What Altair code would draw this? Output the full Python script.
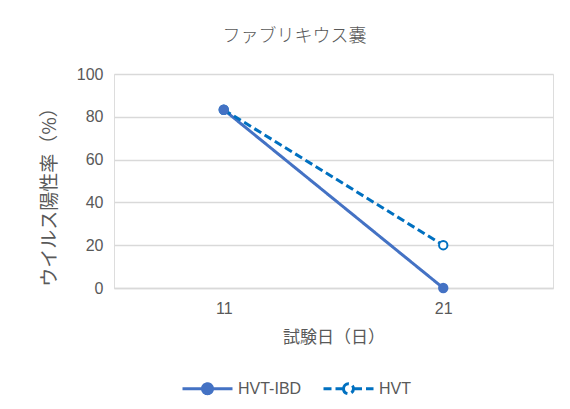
import altair as alt
import pandas as pd

days = ["11", "21"]
series_names = ["HVT-IBD", "HVT"]
hvt_ibd = [83.3, 0.0]
hvt = [83.3, 20.0]

rows = []
for name, vals in zip(series_names, [hvt_ibd, hvt]):
    for d, v in zip(days, vals):
        rows.append({"day": d, "value": v, "series": name})
df = pd.DataFrame(rows)

colors = ["#4472C4", "#0070C0"]
fills = ["#4472C4", "#ffffff"]
dashes = [[1, 0], [8, 4]]
JP = "Noto Sans CJK JP"
NUM = "Liberation Sans"
TXT = "#595959"

xscale = alt.Scale(domain=days, padding=0.5)
yscale = alt.Scale(domain=[0, 100])
sscale = alt.Scale(domain=series_names, range=colors)
fscale = alt.Scale(domain=series_names, range=fills)
dscale = alt.Scale(domain=series_names, range=dashes)

x_enc = alt.X("day:O", scale=xscale,
              axis=alt.Axis(title="試験日（日）", labelAngle=0, ticks=False, domain=True,
                            domainColor="#d9d9d9", domainWidth=1.5, labelPadding=12, titlePadding=13,
                            labelFont=NUM, labelFontSize=16, labelColor=TXT,
                            titleFont=JP, titleFontSize=17, titleFontWeight="normal",
                            titleColor=TXT))
y_enc = alt.Y("value:Q", scale=yscale,
              axis=alt.Axis(title="ウイルス陽性率（%）", values=[0, 20, 40, 60, 80, 100],
                            ticks=False, domain=False, gridColor="#d9d9d9", gridWidth=1.5,
                            labelPadding=11, titlePadding=17, titleY=118,
                            labelFont=NUM, labelFontSize=16, labelColor=TXT,
                            titleFont=JP, titleFontSize=19, titleFontWeight="normal",
                            titleColor=TXT))

sym_path = "M-1,0H-0.22M0.22,0H1M-0.2,0A0.2,0.2,0,1,1,0.2,0A0.2,0.2,0,1,1,-0.2,0"

def leg():
    return alt.Legend(title=None, orient="none", legendX=67, legendY=288,
                      direction="horizontal", symbolType=sym_path,
                      symbolSize=2500, symbolStrokeWidth=3, symbolOpacity=1,
                      labelFont=NUM, labelFontSize=16, labelColor=TXT,
                      labelOffset=4, columnPadding=15)

lines = alt.Chart(df).mark_line(strokeWidth=3).encode(
    x=x_enc,
    y=y_enc,
    stroke=alt.Stroke("series:N", scale=sscale, legend=leg()),
    strokeDash=alt.StrokeDash("series:N", scale=dscale, legend=leg()),
)

def pts(name):
    return alt.Chart(df).transform_filter(alt.datum.series == name).mark_point(
        filled=True, opacity=1, size=70, strokeWidth=2
    ).encode(
        x=alt.X("day:O", scale=xscale),
        y=alt.Y("value:Q"),
        stroke=alt.Stroke("series:N", scale=sscale, legend=leg()),
        fill=alt.Fill("series:N", scale=fscale, legend=leg()),
    )

chart = alt.layer(lines, pts("HVT"), pts("HVT-IBD")).properties(
    width=439, height=214,
    title=alt.Title("ファブリキウス嚢", font=JP, fontSize=18, fontWeight=300, color=TXT,
                    anchor="middle", dx=-39, offset=20),
    autosize=alt.AutoSizeParams(type="none"),
    padding={"left": 106, "top": 66, "right": 8, "bottom": 112},
).configure_view(stroke=None).configure(background="white")

chart.save("out.html", embed_options={"renderer": "svg", "actions": False})
